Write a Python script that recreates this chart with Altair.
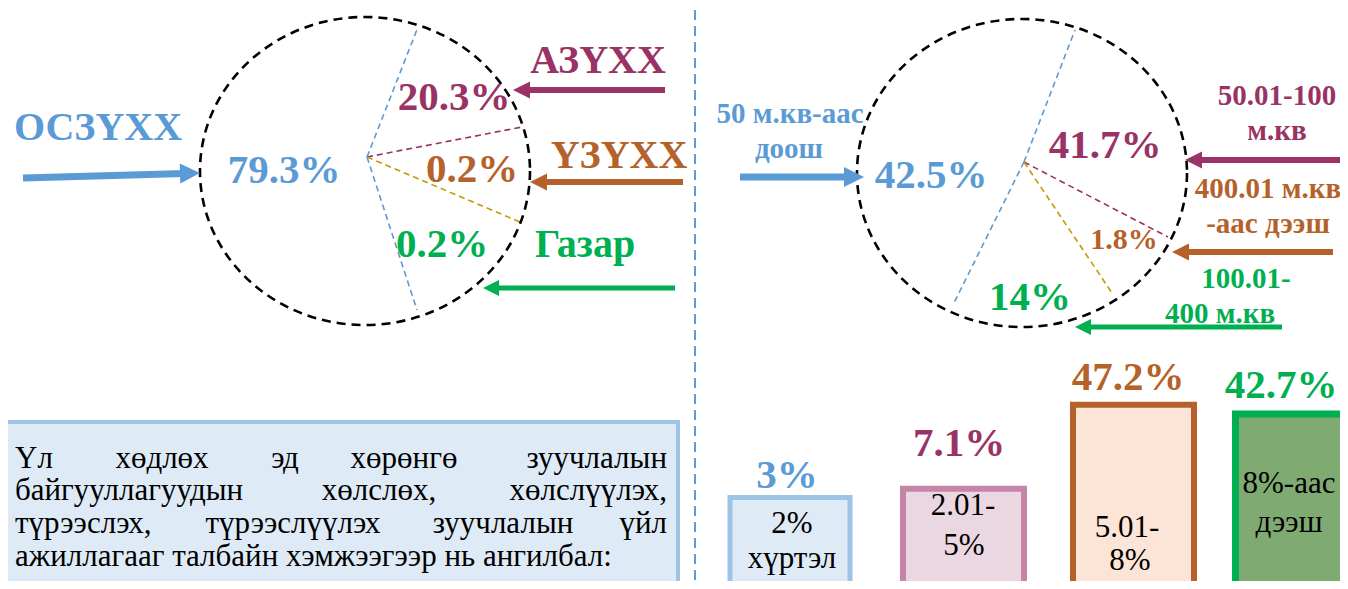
import math
import altair as alt
import pandas as pd

# ---------------- values ----------------
left_categories = ["ОСЗҮХХ", "АЗҮХХ", "ҮЗҮХХ", "Газар"]
left_shares = [79.3, 20.3, 0.2, 0.2]

right_category_lines = [["50 м.кв-аас", "доош"], ["50.01-100", "м.кв"],
                        ["400.01 м.кв", "-аас дээш"], ["100.01-", "400 м.кв"]]
right_shares = [42.5, 41.7, 1.8, 14]

bar_category_lines = [["2%", "хүртэл"], ["2.01-", "5%"], ["5.01-", "8%"], ["8%-аас", "дээш"]]
bar_shares = [3, 7.1, 47.2, 42.7]

note_lines = [
    ["Үл", "хөдлөх", "эд", "хөрөнгө", "зуучлалын"],
    ["байгууллагуудын", "хөлслөх,", "хөлслүүлэх,"],
    ["түрээслэх,", "түрээслүүлэх", "зуучлалын", "үйл"],
    ["ажиллагааг талбайн хэмжээгээр нь ангилбал:"],
]

# ---------------- styles ----------------
BLUE, MAG, ORG, GRN, GOLD = "#5B9BD5", "#993366", "#B5622A", "#00B050", "#C49A00"
series_colors = [BLUE, MAG, ORG, GRN]
bar_fills = ["#DEEBF7", "#EAD7E1", "#FCE4D6", "#7FAA72"]
bar_strokes = ["#9DC3E6", "#C585A6", ORG, GRN]
bar_stroke_w = [5, 6, 6, 7]
FONT = "'Liberation Serif', 'Times New Roman', Times, 'DejaVu Serif', serif"

# ---------------- layout (page pixel coordinates) ----------------
W, H = 1332, 573
xs = alt.Scale(domain=[8, 8 + W], range=[0, W], nice=False, zero=False)
ys = alt.Scale(domain=[8, 8 + H], range=[0, H], nice=False, zero=False)
# bar heights: linear scale on share value
bar_scale = alt.Scale(domain=[0, 50], range=[495.75, 390.75], nice=False, zero=False)

left_cat_pos = [(98, 140), (598, 73), (619, 168), (585, 257)]
left_pct_pos = [(284, 183), (454, 110), (472, 182), (442, 257)]
right_cat_pos = [[(790, 123), (789, 158)], [(1277, 105), (1277, 140)],
                 [(1268, 198), (1268, 233)], [(1246, 288), (1220, 323)]]
right_pct_pos = [(931, 188), (1105, 158), (1124, 249), (1030, 310)]
right_pct_size = [41, 41, 30, 41]
right_label_size = 29

pie_centres = [(365, 171), (1022, 173)]
RX, RY = 165, 154
pie_dividers = [
    ((367, 157), (418, 27), BLUE), ((367, 157), (522, 127), MAG),
    ((367, 157), (520, 222), GOLD), ((367, 157), (417, 310), BLUE),
    ((1024, 162), (1075, 30), BLUE), ((1024, 162), (953, 305), BLUE),
    ((1024, 162), (1168, 237), MAG), ((1024, 162), (1112, 293), GOLD),
]
arrows = [  # start x, start y, tip x, tip y, colour, shaft width, head radius
    (23, 178, 200, 173, BLUE, 7, 10), (665, 90, 513, 90, MAG, 6, 8.5),
    (683, 182, 530, 182, ORG, 6, 8.5), (675, 288, 483, 288, GRN, 5, 8),
    (740, 177, 864, 177, BLUE, 7, 10), (1345, 160, 1185, 160, MAG, 6, 8.5),
    (1333, 252, 1172, 252, ORG, 6, 8.5), (1282, 327, 1075, 327, GRN, 5, 8),
]
divider = (695, 10, 600)
note_box = (5, 678, 422, 620)
note_baselines = [468, 500, 533, 566]
note_left, note_right = 15, 667
note_mid_centres = [[162, 285, 404], [379], [293, 503], []]
note_size = 31

bar_x = [(730, 850), (903, 1024), (1073, 1194), (1235.5, 1346)]
bar_value_pos = [(787, 488), (959, 456), (1128, 390), (1281, 398)]
bar_text_pos = [[(792, 533), (792, 568)], [(963, 515), (964, 555)],
                [(1127, 537), (1130, 570)], [(1289, 493), (1289, 532)]]
bar_text_size = 31

# ---------------- tables ----------------
def pct(v):
    return f"{v:g}%"

bold_rows = []
for name, v, c, (cx, cy), (px, py) in zip(left_categories, left_shares, series_colors, left_cat_pos, left_pct_pos):
    bold_rows.append(dict(text=name, x=cx, y=cy, color=c, fs=40))
    bold_rows.append(dict(text=pct(v), x=px, y=py, color=c, fs=41))
for lines, v, c, poss, (px, py), fs in zip(right_category_lines, right_shares, series_colors,
                                           right_cat_pos, right_pct_pos, right_pct_size):
    for t, (lx, ly) in zip(lines, poss):
        bold_rows.append(dict(text=t, x=lx, y=ly, color=c, fs=right_label_size))
    bold_rows.append(dict(text=pct(v), x=px, y=py, color=c, fs=fs))
for v, c, (px, py) in zip(bar_shares, series_colors, bar_value_pos):
    bold_rows.append(dict(text=pct(v), x=px, y=py, color=c, fs=41))
bold_df = pd.DataFrame(bold_rows)

reg_rows = {"left": [], "center": [], "right": []}
for words, yb, mids in zip(note_lines, note_baselines, note_mid_centres):
    reg_rows["left"].append(dict(text=words[0], x=note_left, y=yb, fs=note_size))
    if len(words) == 1:
        continue
    reg_rows["right"].append(dict(text=words[-1], x=note_right, y=yb, fs=note_size))
    for w_, mx in zip(words[1:-1], mids):
        reg_rows["center"].append(dict(text=w_, x=mx, y=yb, fs=note_size))
for lines, poss in zip(bar_category_lines, bar_text_pos):
    for t, (lx, ly) in zip(lines, poss):
        reg_rows["center"].append(dict(text=t, x=lx, y=ly, fs=bar_text_size))

div_df = pd.DataFrame([dict(x=a[0], y=a[1], x2=b[0], y2=b[1], color=c) for a, b, c in pie_dividers])
pie_df = pd.DataFrame([dict(x=cx, y=cy) for cx, cy in pie_centres])

shaft_rows, head_rows = [], []
for sx, sy, tx, ty, c, w, r in arrows:
    dx, dy = tx - sx, ty - sy
    L = math.hypot(dx, dy)
    ux, uy = dx / L, dy / L
    shaft_rows.append(dict(x=sx, y=sy, x2=tx - ux * r * 1.5, y2=ty - uy * r * 1.5, color=c, w=w))
    head_rows.append(dict(x=tx, y=ty, color=c, s=(2 * r) ** 2,
                          a=math.degrees(math.atan2(dy, dx)) % 360))
shaft_df = pd.DataFrame(shaft_rows)
head_df = pd.DataFrame(head_rows)

bar_df = pd.DataFrame(dict(
    category=[" ".join(l) for l in bar_category_lines], share=bar_shares,
    x1=[a for a, b in bar_x], x2=[b for a, b in bar_x],
    fill=bar_fills, stroke=bar_strokes, sw=bar_stroke_w))

box_df = pd.DataFrame([dict(x1=note_box[0], x2=note_box[1], y1=note_box[2], y2=note_box[3])])
vline_df = pd.DataFrame([dict(x=divider[0], y=divider[1], y2=divider[2])])

# ---------------- marks ----------------
X = lambda f: alt.X(f, scale=xs, axis=None)
Y = lambda f: alt.Y(f, scale=ys, axis=None)

k = RY / RX
c1, c2 = 0.5523, 0.5523 * k
ELLIPSE = (f"M 1 0 C 1 {c2:.4f} {c1} {k:.4f} 0 {k:.4f} C {-c1} {k:.4f} -1 {c2:.4f} -1 0 "
           f"C -1 {-c2:.4f} {-c1} {-k:.4f} 0 {-k:.4f} C {c1} {-k:.4f} 1 {-c2:.4f} 1 0 Z")
HEAD = "M 0 0 L -2 -1 L -2 1 Z"

box = alt.Chart(box_df).mark_rect(fill="#DEEBF7", stroke="#9DC3E6", strokeWidth=4).encode(
    x=X("x1:Q"), x2="x2:Q", y=Y("y1:Q"), y2="y2:Q")

vline = alt.Chart(vline_df).mark_rule(color=BLUE, strokeWidth=2, strokeDash=[10, 6]).encode(
    x=X("x:Q"), y=Y("y:Q"), y2="y2:Q")

dividers = alt.Chart(div_df).mark_rule(strokeWidth=1.6, strokeDash=[6, 4]).encode(
    x=X("x:Q"), y=Y("y:Q"), x2="x2:Q", y2="y2:Q", color=alt.Color("color:N", scale=None))

circles = alt.Chart(pie_df).mark_point(shape=ELLIPSE, size=(2 * RX) ** 2, filled=False,
                                       color="black", strokeWidth=2.6, strokeDash=[9, 6],
                                       opacity=1).encode(x=X("x:Q"), y=Y("y:Q"))

shafts = alt.Chart(shaft_df).mark_rule(strokeCap="butt").encode(
    x=X("x:Q"), y=Y("y:Q"), x2="x2:Q", y2="y2:Q",
    color=alt.Color("color:N", scale=None), strokeWidth=alt.StrokeWidth("w:Q", scale=None))

heads = alt.Chart(head_df).mark_point(shape=HEAD, filled=True, opacity=1).encode(
    x=X("x:Q"), y=Y("y:Q"), color=alt.Color("color:N", scale=None),
    size=alt.Size("s:Q", scale=None), angle=alt.Angle("a:Q", scale=None))


def text_layer(df, weight, align, color=None):
    enc = dict(x=X("x:Q"), y=Y("y:Q"), text="text:N", size=alt.Size("fs:Q", scale=None))
    if color is None:
        enc["color"] = alt.Color("color:N", scale=None)
    mk = dict(font=FONT, fontWeight=weight, align=align, baseline="alphabetic")
    if color is not None:
        mk["color"] = color
    return alt.Chart(df).mark_text(**mk).encode(**enc)


bold_text = text_layer(bold_df, "bold", "center")
reg_layers = [text_layer(pd.DataFrame(rows), "normal", al, color="black")
              for al, rows in reg_rows.items() if rows]

bars = alt.Chart(bar_df).mark_rect().encode(
    x=alt.X("x1:Q", scale=xs, axis=None), x2="x2:Q",
    y=alt.Y("share:Q", scale=bar_scale, axis=None), y2=alt.value(H + 40),
    fill=alt.Fill("fill:N", scale=None), stroke=alt.Stroke("stroke:N", scale=None),
    strokeWidth=alt.StrokeWidth("sw:Q", scale=None))

under = alt.layer(box, vline, dividers, circles, shafts, heads)
over = alt.layer(bold_text, *reg_layers)

chart = alt.layer(under, bars, over).resolve_scale(y="independent").properties(
    width=W, height=H, padding=0, autosize=alt.AutoSizeParams(type="none"),
    background="white").configure_view(stroke=None)

chart.save("out.html", embed_options={"renderer": "svg", "actions": False})
